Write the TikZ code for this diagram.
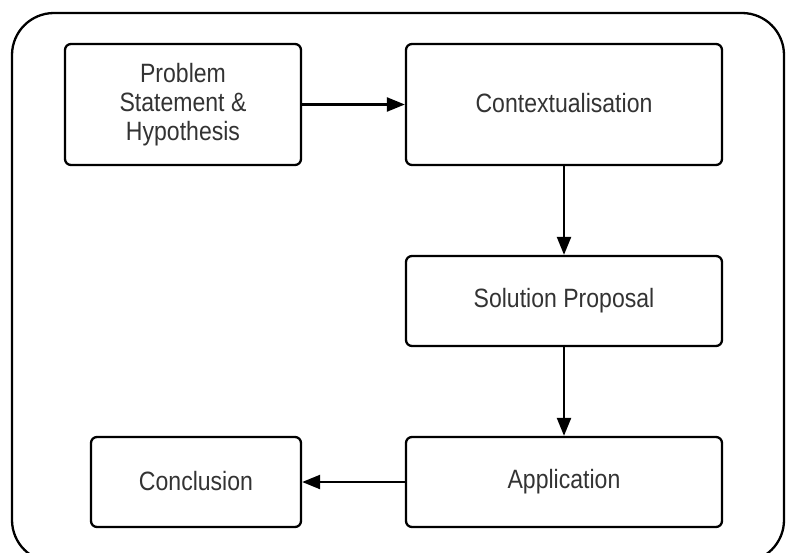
\documentclass[tikz,border=0pt]{standalone}
\usepackage{fontspec}
\setmainfont{Liberation Sans}[FakeStretch=0.87]
\usetikzlibrary{arrows.meta}
\begin{document}
\begin{tikzpicture}[x=1pt,y=-1pt,
  stage/.style={draw=black, line width=2.3pt, rounded corners=6pt, inner sep=0pt,
    text=black!80, align=center, font=\fontsize{26.5}{29}\selectfont},
  flow/.style={draw=black, line width=2.3pt, -{Triangle[length=18pt,width=14pt]}}]
  \useasboundingbox (0,0) rectangle (789,552);
  \clip (0,0) rectangle (789,552);
  % outer frame
  \draw[line width=2.3pt, rounded corners=42pt] (12,13) rectangle (784,562);
  % stages
  \node[stage, minimum width=236pt, minimum height=121pt] (prob) at (183,104.5)
    {Problem\\Statement \&\\Hypothesis};
  \node[stage, minimum width=316pt, minimum height=121pt] (ctx) at (564,104.5)
    {\raisebox{3pt}{Contextualisation}};
  \node[stage, minimum width=316pt, minimum height=90pt] (sol) at (564,301)
    {\raisebox{2pt}{Solution Proposal}};
  \node[stage, minimum width=316pt, minimum height=90pt] (app) at (564,482)
    {\raisebox{3pt}{Application}};
  \node[stage, minimum width=210pt, minimum height=90pt] (con) at (196,482)
    {\raisebox{3pt}{Conclusion}};
  % connectors
  \draw[flow] (prob) -- (ctx);
  \draw[flow] (ctx) -- (sol);
  \draw[flow] (sol) -- (app);
  \draw[flow] (app) -- (con);
\end{tikzpicture}
\end{document}
